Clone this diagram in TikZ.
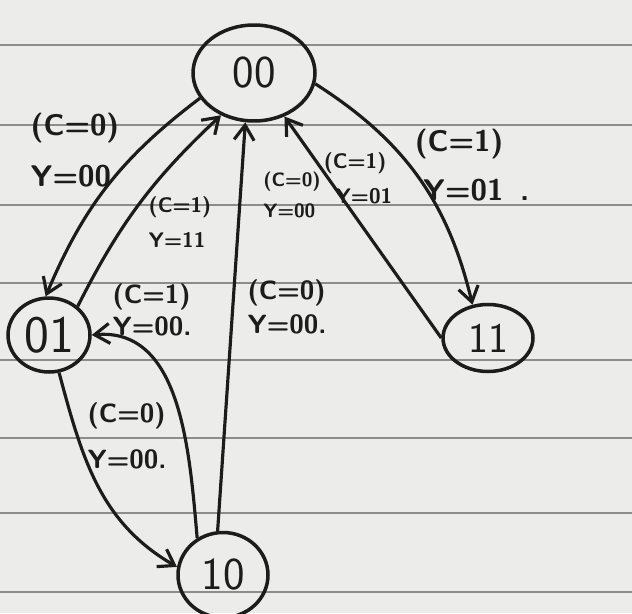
\documentclass[tikz,border=0pt]{standalone}
\usetikzlibrary{shapes.geometric,arrows.meta}
\definecolor{paper}{RGB}{236,236,234}
\definecolor{ruleclr}{RGB}{140,140,140}
\definecolor{ink}{RGB}{28,28,28}
\begin{document}
\begin{tikzpicture}[x=0.02cm,y=0.02cm]
        \tikzstyle{state}=[ellipse, draw=ink, text=ink, line width=2pt, inner sep=0pt, font=\sffamily\fontsize{30}{30}\selectfont]
        \tikzstyle{edge}=[draw=ink, line width=1.8pt, -{Straight Barb[length=3mm,width=4mm]}]
        \tikzstyle{lbl}=[text=ink, align=left, inner sep=1pt, font=\sffamily\bfseries\fontsize{15}{26}\selectfont]
        \tikzstyle{smalllbl}=[text=ink, align=left, inner sep=1pt, font=\sffamily\bfseries\fontsize{11}{18}\selectfont]

        % lined paper
        \useasboundingbox (0,0) rectangle (632,613);
        \fill[paper] (0,0) rectangle (632,613);
        \foreach \y in {568,488,408,330,253,175,100,21}
            \draw[ruleclr, line width=0.8pt] (0,\y) -- (632,\y);

        \node[state, minimum width=2.44cm, minimum height=1.92cm, font=\sffamily\fontsize{26}{26}\selectfont] (s00) at (254,540) {00};
        \node[state, minimum width=1.64cm, minimum height=1.48cm] (s01) at (49,278) {01};
        \node[state, minimum width=1.80cm, minimum height=1.34cm, font=\sffamily\fontsize{24}{24}\selectfont] (s11) at (488,275) {11};
        \node[state, minimum width=1.80cm, minimum height=1.70cm, font=\sffamily\fontsize{26}{26}\selectfont] (s10) at (223,38) {10};

        \draw[edge] (s00.205) to[bend right=15] (s01.95);
        \draw[edge] (s01.45) to[bend left=10] (s00.232);
        \draw[edge] (s10.97) -- (s00.260);
        \draw[edge] (s11.180) -- (s00.305);
        \draw[edge] (s00.350) to[bend left=22] (s11.115);
        \draw[edge] (s10.125) to[out=95, in=5] (s01.0);
        \draw[edge] (s01.285) to[out=-75, in=150] (s10.170);

        \node[lbl, font=\sffamily\bfseries\fontsize{17}{29}\selectfont] (c1) at (75,463) {(C=0)\\Y=00};
        \node[smalllbl, font=\sffamily\bfseries\fontsize{12}{20}\selectfont] (c2) at (180,391) {(C=1)\\Y=11};
        \node[smalllbl] (c3) at (292,418) {(C=0)\\Y=00};
        \node[smalllbl, font=\sffamily\bfseries\fontsize{12}{20}\selectfont] (c4) at (358,435) {(C=1)\\\;\;Y=01};
        \node[lbl, font=\sffamily\bfseries\fontsize{17}{28}\selectfont] (c5) at (472,448) {(C=1)\\\;Y=01\;\;.};
        \node[lbl, font=\sffamily\bfseries\fontsize{15}{18}\selectfont] (c6) at (152,303) {(C=1)\\Y=00.};
        \node[lbl, font=\sffamily\bfseries\fontsize{15}{19}\selectfont] (c7) at (287,306) {(C=0)\\Y=00.};
        \node[lbl] (c8) at (127,177) {(C=0)\\Y=00.};
    \end{tikzpicture}
\end{document}
